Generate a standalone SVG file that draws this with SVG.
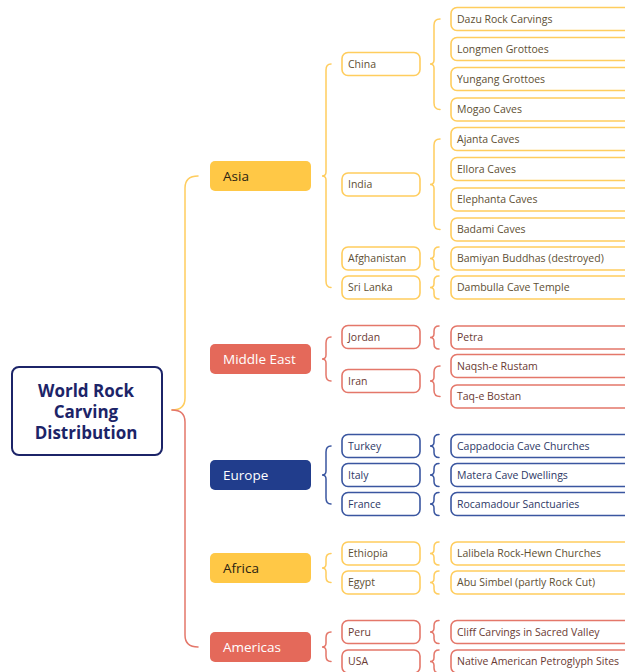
<svg xmlns="http://www.w3.org/2000/svg" width="625" height="672" viewBox="0 0 625 672">
<style>
text{font-family:"Open Sans","Liberation Sans",sans-serif}
.root{fill:#fff;stroke:#1c2468;stroke-width:2}
.rt{font-size:17px;font-weight:700;fill:#1c2468;text-anchor:middle}
.cy{fill:#ffc846}.cr{fill:#e4695a}.cb{fill:#213d8c}
.ct{font-size:13.5px;font-weight:500}
.tdk{fill:#2a2212}.twh{fill:#fff}
.ny{fill:#fff;stroke:#ffcd5e;stroke-width:1.6}
.nr{fill:#fff;stroke:#e4776a;stroke-width:1.6}
.nb{fill:#fff;stroke:#3a56a0;stroke-width:1.6}
.t{font-size:10.5px;font-weight:500}
.ty{fill:#5e4f33}.tr{fill:#6a3a33}.tb{fill:#2d3866}
.c{fill:none;stroke-width:1.5;stroke-linecap:round}
.sy{stroke:#ffcd5e}.sr{stroke:#e4776a}.sb{stroke:#3a56a0}
</style>
<g id="connectors">
<path class="c sy" d="M172,410 Q185,410 185,398 L185,188 Q185,176 198,176"/>
<path class="c sr" d="M172,410 Q185,410 185,422 L185,635 Q185,647 198,647"/>
<path class="c sy" d="M331,64 Q326,64 326,70 L326,172 Q326,176 322,176 Q326,176 326,180 L326,281 Q326,287.5 331,287.5"/>
<path class="c sy" d="M440,19 Q434,19 434,25 L434,60 Q434,64 430,64 Q434,64 434,68 L434,103 Q434,109.5 440,109.5"/>
<path class="c sy" d="M440,139 Q434,139 434,145 L434,180.5 Q434,184.5 430,184.5 Q434,184.5 434,188.5 L434,223.5 Q434,229.5 440,229.5"/>
<path class="c sy" d="M439,247 Q434,247 434,252 L434,254.5 Q434,258.5 430,258.5 Q434,258.5 434,262.5 L434,265 Q434,270 439,270"/>
<path class="c sy" d="M439,276 Q434,276 434,281 L434,283.5 Q434,287.5 430,287.5 Q434,287.5 434,291.5 L434,294 Q434,299 439,299"/>
<path class="c sr" d="M331,337 Q326,337 326,343 L326,355 Q326,359 322,359 Q326,359 326,363 L326,375 Q326,381 331,381"/>
<path class="c sr" d="M439,326 Q434,326 434,331 L434,333.5 Q434,337.5 430,337.5 Q434,337.5 434,341.5 L434,344 Q434,349 439,349"/>
<path class="c sr" d="M440,366 Q434,366 434,372 L434,377 Q434,381 430,381 Q434,381 434,385 L434,390.5 Q434,396.5 440,396.5"/>
<path class="c sb" d="M331,446 Q326,446 326,452 L326,471 Q326,475 322,475 Q326,475 326,479 L326,498 Q326,504 331,504"/>
<path class="c sb" d="M439,434.5 Q434,434.5 434,439.5 L434,442 Q434,446 430,446 Q434,446 434,450 L434,452.5 Q434,457.5 439,457.5"/>
<path class="c sb" d="M439,463.5 Q434,463.5 434,468.5 L434,471 Q434,475 430,475 Q434,475 434,479 L434,481.5 Q434,486.5 439,486.5"/>
<path class="c sb" d="M439,492.5 Q434,492.5 434,497.5 L434,500 Q434,504 430,504 Q434,504 434,508 L434,510.5 Q434,515.5 439,515.5"/>
<path class="c sy" d="M331,553.5 Q326,553.5 326,559 L326,564 Q326,568 322,568 Q326,568 326,572 L326,577 Q326,582.5 331,582.5"/>
<path class="c sy" d="M439,542 Q434,542 434,547 L434,549.5 Q434,553.5 430,553.5 Q434,553.5 434,557.5 L434,560 Q434,565 439,565"/>
<path class="c sy" d="M439,571 Q434,571 434,576 L434,578.5 Q434,582.5 430,582.5 Q434,582.5 434,586.5 L434,589 Q434,594 439,594"/>
<path class="c sr" d="M331,632 Q326,632 326,637.5 L326,643 Q326,647 322,647 Q326,647 326,651 L326,656 Q326,661.5 331,661.5"/>
<path class="c sr" d="M439,620.5 Q434,620.5 434,625.5 L434,628 Q434,632 430,632 Q434,632 434,636 L434,638.5 Q434,643.5 439,643.5"/>
<path class="c sr" d="M439,650 Q434,650 434,655 L434,657.5 Q434,661.5 430,661.5 Q434,661.5 434,665.5 L434,668 Q434,673 439,673"/>
</g>
<g id="root"><rect class="root" x="12" y="367" width="150" height="88" rx="7"/><text class="rt" x="86" y="397">World Rock</text><text class="rt" x="86" y="418">Carving</text><text class="rt" x="86" y="439">Distribution</text></g>
<g id="asia"><rect class="cy" x="210" y="161" width="101" height="30" rx="5"/><text class="ct tdk" x="223" y="181">Asia</text></g>
<g id="middle-east"><rect class="cr" x="210" y="344" width="101" height="30" rx="5"/><text class="ct twh" x="223" y="364">Middle East</text></g>
<g id="europe"><rect class="cb" x="210" y="460" width="101" height="30" rx="5"/><text class="ct twh" x="223" y="480">Europe</text></g>
<g id="africa"><rect class="cy" x="210" y="553" width="101" height="30" rx="5"/><text class="ct tdk" x="223" y="573">Africa</text></g>
<g id="americas"><rect class="cr" x="210" y="632" width="101" height="30" rx="5"/><text class="ct twh" x="223" y="652">Americas</text></g>
<g id="china"><rect class="ny" x="342" y="52.5" width="78" height="23" rx="6"/><text class="t ty" x="348" y="67.5">China</text></g>
<g id="india"><rect class="ny" x="342" y="173" width="78" height="23" rx="6"/><text class="t ty" x="348" y="188">India</text></g>
<g id="afghanistan"><rect class="ny" x="342" y="247" width="78" height="23" rx="6"/><text class="t ty" x="348" y="262">Afghanistan</text></g>
<g id="sri-lanka"><rect class="ny" x="342" y="276" width="78" height="23" rx="6"/><text class="t ty" x="348" y="291">Sri Lanka</text></g>
<g id="jordan"><rect class="nr" x="342" y="325.5" width="78" height="23" rx="6"/><text class="t tr" x="348" y="340.5">Jordan</text></g>
<g id="iran"><rect class="nr" x="342" y="369.5" width="78" height="23" rx="6"/><text class="t tr" x="348" y="384.5">Iran</text></g>
<g id="turkey"><rect class="nb" x="342" y="434.5" width="78" height="23" rx="6"/><text class="t tb" x="348" y="449.5">Turkey</text></g>
<g id="italy"><rect class="nb" x="342" y="463.5" width="78" height="23" rx="6"/><text class="t tb" x="348" y="478.5">Italy</text></g>
<g id="france"><rect class="nb" x="342" y="492.5" width="78" height="23" rx="6"/><text class="t tb" x="348" y="507.5">France</text></g>
<g id="ethiopia"><rect class="ny" x="342" y="542" width="78" height="23" rx="6"/><text class="t ty" x="348" y="557">Ethiopia</text></g>
<g id="egypt"><rect class="ny" x="342" y="571" width="78" height="23" rx="6"/><text class="t ty" x="348" y="586">Egypt</text></g>
<g id="peru"><rect class="nr" x="342" y="620.5" width="78" height="23" rx="6"/><text class="t tr" x="348" y="635.5">Peru</text></g>
<g id="usa"><rect class="nr" x="342" y="650" width="78" height="23" rx="6"/><text class="t tr" x="348" y="665">USA</text></g>
<g id="dazu"><rect class="ny" x="451" y="7.5" width="200" height="23" rx="6"/><text class="t ty" x="457" y="22.5">Dazu Rock Carvings</text></g>
<g id="longmen"><rect class="ny" x="451" y="37.5" width="200" height="23" rx="6"/><text class="t ty" x="457" y="52.5">Longmen Grottoes</text></g>
<g id="yungang"><rect class="ny" x="451" y="67.5" width="200" height="23" rx="6"/><text class="t ty" x="457" y="82.5">Yungang Grottoes</text></g>
<g id="mogao"><rect class="ny" x="451" y="98" width="200" height="23" rx="6"/><text class="t ty" x="457" y="113">Mogao Caves</text></g>
<g id="ajanta"><rect class="ny" x="451" y="127.5" width="200" height="23" rx="6"/><text class="t ty" x="457" y="142.5">Ajanta Caves</text></g>
<g id="ellora"><rect class="ny" x="451" y="157.5" width="200" height="23" rx="6"/><text class="t ty" x="457" y="172.5">Ellora Caves</text></g>
<g id="elephanta"><rect class="ny" x="451" y="188" width="200" height="23" rx="6"/><text class="t ty" x="457" y="203">Elephanta Caves</text></g>
<g id="badami"><rect class="ny" x="451" y="218" width="200" height="23" rx="6"/><text class="t ty" x="457" y="233">Badami Caves</text></g>
<g id="bamiyan"><rect class="ny" x="451" y="247" width="200" height="23" rx="6"/><text class="t ty" x="457" y="262">Bamiyan Buddhas (destroyed)</text></g>
<g id="dambulla"><rect class="ny" x="451" y="276" width="200" height="23" rx="6"/><text class="t ty" x="457" y="291">Dambulla Cave Temple</text></g>
<g id="petra"><rect class="nr" x="451" y="326" width="200" height="23" rx="6"/><text class="t tr" x="457" y="341">Petra</text></g>
<g id="naqsh"><rect class="nr" x="451" y="354.5" width="200" height="23" rx="6"/><text class="t tr" x="457" y="369.5">Naqsh-e Rustam</text></g>
<g id="taq"><rect class="nr" x="451" y="385" width="200" height="23" rx="6"/><text class="t tr" x="457" y="400">Taq-e Bostan</text></g>
<g id="cappadocia"><rect class="nb" x="451" y="434.5" width="200" height="23" rx="6"/><text class="t tb" x="457" y="449.5">Cappadocia Cave Churches</text></g>
<g id="matera"><rect class="nb" x="451" y="463.5" width="200" height="23" rx="6"/><text class="t tb" x="457" y="478.5">Matera Cave Dwellings</text></g>
<g id="rocamadour"><rect class="nb" x="451" y="492.5" width="200" height="23" rx="6"/><text class="t tb" x="457" y="507.5">Rocamadour Sanctuaries</text></g>
<g id="lalibela"><rect class="ny" x="451" y="542" width="200" height="23" rx="6"/><text class="t ty" x="457" y="557">Lalibela Rock-Hewn Churches</text></g>
<g id="abu-simbel"><rect class="ny" x="451" y="571" width="200" height="23" rx="6"/><text class="t ty" x="457" y="586">Abu Simbel (partly Rock Cut)</text></g>
<g id="cliff"><rect class="nr" x="451" y="620.5" width="200" height="23" rx="6"/><text class="t tr" x="457" y="635.5">Cliff Carvings in Sacred Valley</text></g>
<g id="native"><rect class="nr" x="451" y="650" width="200" height="23" rx="6"/><text class="t tr" x="457" y="665">Native American Petroglyph Sites</text></g>
</svg>
